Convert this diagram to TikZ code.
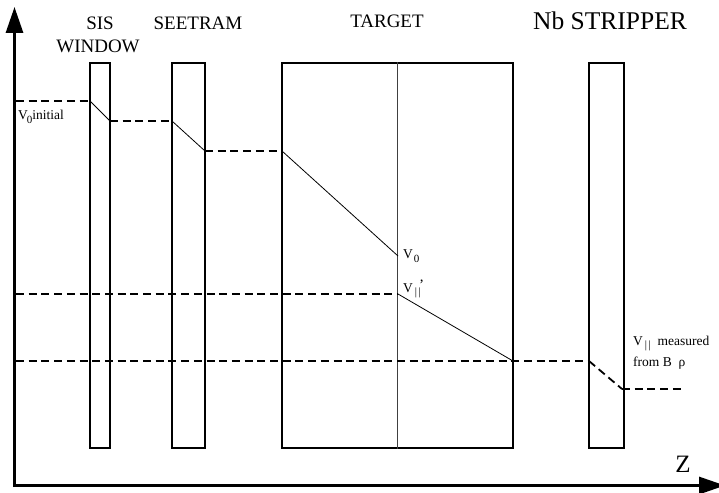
\documentclass[tikz,border=0pt]{standalone}
\usepackage{fontspec}
\setmainfont{Liberation Serif}
\usetikzlibrary{arrows.meta}
\newcommand{\lowsub}[1]{\raisebox{-3.5bp}{\fontsize{11bp}{12bp}\selectfont #1}}
\begin{document}
\begin{tikzpicture}[x=1bp,y=-1bp,
 axis/.style={line width=3bp,-{Triangle[length=26bp,width=17bp]}},
 plate/.style={draw,line width=2bp,inner sep=0pt,minimum width=#1,minimum height=385bp},
 traj/.style={line width=0.8bp},
 dline/.style={line width=1.8bp,dash pattern=on 8bp off 4.7bp},
 big/.style={font=\fontsize{19bp}{21bp}\selectfont,anchor=base,inner sep=0pt},
 huge/.style={font=\fontsize{25.5bp}{28bp}\selectfont,anchor=base,inner sep=0pt},
 small/.style={font=\fontsize{13.5bp}{15bp}\selectfont,anchor=base west,inner sep=0pt}]
\useasboundingbox (0,0) rectangle (719,493);
% axes
\coordinate (origin) at (14.5,485.5);
\coordinate (ytip) at (14.5,7);
\coordinate (ztip) at (725,485.5);
\draw[axis] ([yshift=-1.5bp]origin) -- (ytip);
\draw[axis] ([xshift=-1.5bp]origin) -- (ztip);
% plates
\node[plate=20bp] (sis) at (100,255.5) {};
\node[plate=33bp] (seetram) at (188.5,255.5) {};
\node[plate=231bp] (target) at (397.5,255.5) {};
\node[plate=35bp] (strip) at (606.5,255.5) {};
\draw[line width=0.9bp,black!75] (target.north) -- (target.south);
% labels
\node[big] (l1) at (100,30) {SIS};
\node[big] (l2) at (98,53) {WINDOW};
\node[big] (l3) at (198,30) {SEETRAM};
\node[big] (l4) at (387,28) {TARGET};
\node[huge] (l5) at (610,30) {Nb STRIPPER};
\node[font=\fontsize{25bp}{28bp}\selectfont,anchor=base,inner sep=0pt] (zl) at (683,472) {Z};
% trajectory points
\coordinate (a0) at (16,101);
\coordinate (p1) at (90,101);
\coordinate (p2) at (110,121);
\coordinate (p3) at (172,121);
\coordinate (p4) at (205,151);
\coordinate (p5) at (282,151);
\coordinate (p6) at (398,256);
\coordinate (q0) at (16,294);
\coordinate (q1) at (398,294);
\coordinate (q2) at (513,361);
\coordinate (r0) at (16,361);
\coordinate (r1) at (589,361);
\coordinate (r2) at (622,389);
\coordinate (r3) at (681,389);
\draw[dline] (a0) -- (p1);
\draw[traj] (p1) -- (p2);
\draw[dline] (p2) -- (p3);
\draw[traj] (p3) -- (p4);
\draw[dline] (p4) -- (p5);
\draw[traj] (p5) -- (p6);
\draw[dline] (q0) -- (q1);
\draw[traj] (q1) -- (q2);
\draw[dline] (r0) -- (r1);
\draw[dline] (r1) -- (r2);
\draw[dline] (r2) -- (r3);
% small labels
\node[small] (v0i) at (18,120) {V\kern-1bp\lowsub{0}initial};
\node[small] (v0) at (403,259) {V\kern1bp\lowsub{0}};
\node[small] (vpar) at (403,292) {V\kern2bp\lowsub{|\kern1.5bp|}\kern-1bp\raisebox{10bp}{\fontsize{15bp}{16bp}\selectfont ,}};
\node[small] (vm1) at (633,345) {V\kern2bp\lowsub{|\kern1.5bp|}\ \ measured};
\node[small] (vm2) at (633,366) {from B\ \ ρ};
\end{tikzpicture}
\end{document}
